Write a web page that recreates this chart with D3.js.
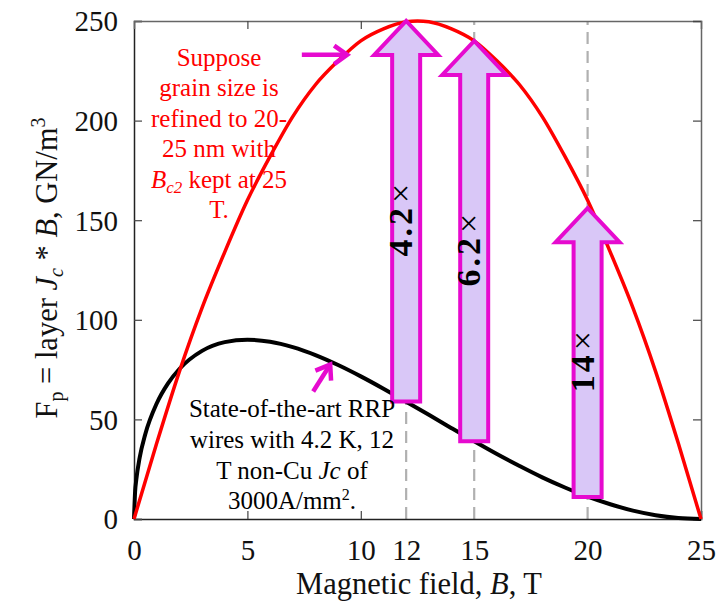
<!DOCTYPE html>
<html>
<head>
<meta charset="utf-8">
<script src="https://cdn.jsdelivr.net/npm/d3@7"></script>
<style>
  html, body { margin: 0; padding: 0; background: #fff; }
  svg { display: block; }
  svg text { font-family: "Liberation Serif", "Times New Roman", serif; }
</style>
</head>
<body>
<svg id="chart" width="719" height="608"></svg>
<script>
// Pinning force vs. field for present RRP wires and a refined-grain projection
const refinedField = [0, 1, 2, 3, 4, 5, 6, 7, 8, 9, 10, 11, 12, 12.5, 13, 14, 15, 16, 17, 18, 19, 20, 21, 22, 23, 24, 25];
const refinedFp    = [0, 38, 74, 106, 134, 160, 182, 202, 218, 230, 240, 246, 249.6, 250, 249.6, 246, 240, 230, 218, 202, 182, 160, 134, 106, 74, 38, 0];

const rrpField = [0, 0.05, 0.1, 0.25, 0.5, 1, 1.5, 2, 3, 4, 5, 6, 7, 8, 9, 10, 11, 12, 13, 14, 15, 16, 17, 18, 19, 20, 21, 22, 23, 24, 25];
const rrpFp    = [0, 14, 19.7, 30.8, 42.7, 58, 68.1, 75.3, 84.4, 88.8, 90, 89, 86.3, 82.3, 77.3, 71.6, 65.4, 58.9, 52.3, 45.6, 39, 32.6, 26.6, 20.9, 15.8, 11.2, 7.4, 4.2, 1.9, 0.5, 0];

// Improvement arrows at selected fields
const gainField = [12, 15, 20];
const gainFrom  = [59, 39, 11];
const gainTo    = [250, 240, 156];
const gainLabel = ["4.2×", "6.2×", "14×"];
const gainLabelAt = [150, 135, 79];

const xTicks = [0, 5, 10, 12, 15, 20, 25];
const yTicks = [0, 50, 100, 150, 200, 250];
const markedFields = [12, 15, 20];

const SERIF = "Liberation Serif";
const svg = d3.select("#chart");
const pl = 134, pr = 701, pt = 21, pb = 519;
const x = d3.scaleLinear().domain([0, 25]).range([pl, pr]);
const y = d3.scaleLinear().domain([0, 250]).range([pb, pt]);

const MAG = "#e60acf", LAV = "#d9c7f7";

// dashed guides at the marked fields
svg.append("g").selectAll("line").data(markedFields).join("line")
  .attr("x1", d => x(d)).attr("x2", d => x(d))
  .attr("y1", y(0)).attr("y2", y(250))
  .attr("stroke", "#b0b0b0").attr("stroke-width", 2.2)
  .attr("stroke-dasharray", "12,7");

// axes with inward ticks
const axB = svg.append("g").attr("transform", `translate(0,${pb})`)
  .call(d3.axisBottom(x).tickValues(xTicks).tickSize(-8).tickPadding(20).tickFormat(d3.format("d")));
const axL = svg.append("g").attr("transform", `translate(${pl},0)`)
  .call(d3.axisLeft(y).tickValues(yTicks).tickSize(-8).tickPadding(16));
const axT = svg.append("g").attr("transform", `translate(0,${pt})`)
  .call(d3.axisTop(x).tickValues([5, 10]).tickSize(-8).tickFormat(""));
const axR = svg.append("g").attr("transform", `translate(${pr},0)`)
  .call(d3.axisRight(y).tickValues(yTicks).tickSize(-8).tickFormat(""));

[axB, axL, axT, axR].forEach(g => {
  g.attr("font-family", SERIF);
  g.select(".domain").attr("stroke", "#222").attr("stroke-width", 1.5);
  g.selectAll(".tick line").attr("stroke", "#444").attr("stroke-width", 1.2);
  g.selectAll(".tick text").attr("font-family", SERIF).attr("font-size", 29).attr("fill", "#111");
});
axT.select(".domain").attr("stroke", "#666");
axR.select(".domain").attr("stroke", "#666");
axB.selectAll(".tick line").filter(d => markedFields.includes(d)).attr("stroke", "none");
axL.selectAll(".tick text").attr("dy", "0.34em");

// curves
const line = d3.line().x(d => x(d[0])).y(d => y(d[1])).curve(d3.curveMonotoneX);
svg.append("path").datum(rrpField.map((b, i) => [b, rrpFp[i]]))
  .attr("d", line).attr("fill", "none").attr("stroke", "#000").attr("stroke-width", 4);
svg.append("path").datum(refinedField.map((b, i) => [b, refinedFp[i]]))
  .attr("d", line).attr("fill", "none").attr("stroke", "#ff0000").attr("stroke-width", 3.5);

// block arrows
const shaftHalf = 14, headHalf = 32, headLen = 34;
function blockArrow(b, from, to) {
  const cx = x(b), y0 = y(from), y1 = y(to);
  return `M${cx - shaftHalf},${y0}L${cx - shaftHalf},${y1 + headLen}L${cx - headHalf},${y1 + headLen}` +
         `L${cx},${y1}L${cx + headHalf},${y1 + headLen}L${cx + shaftHalf},${y1 + headLen}L${cx + shaftHalf},${y0}Z`;
}
svg.append("g").selectAll("path").data(gainField).join("path")
  .attr("d", (b, i) => blockArrow(b, gainFrom[i], gainTo[i]))
  .attr("fill", LAV).attr("stroke", MAG).attr("stroke-width", 4).attr("stroke-linejoin", "miter");

const gl = svg.append("g").selectAll("text").data(gainField).join("text")
  .attr("transform", (b, i) => `translate(${x(b) - 6},${y(gainLabelAt[i])}) rotate(-90)`)
  .attr("text-anchor", "middle").attr("dominant-baseline", "central")
  .attr("font-family", SERIF).attr("font-size", 34).attr("fill", "#000");
gl.each(function(b, i) {
  const lab = gainLabel[i];
  const t = d3.select(this);
  t.append("tspan").attr("font-weight", "bold").attr("letter-spacing", 3).text(lab.slice(0, -1));
  t.append("tspan").attr("dx", 2).text(lab.slice(-1));
});

// pointer arrows from the annotations to the curves
const pointers = [
  { from: [7.4, 233], to: [9.4, 233] },
  { from: [7.9, 64], to: [8.65, 77.5] }
];
pointers.forEach(p => {
  const x0 = x(p.from[0]), y0 = y(p.from[1]), x1 = x(p.to[0]), y1 = y(p.to[1]);
  const ang = Math.atan2(y1 - y0, x1 - x0), h = 16, spread = 0.62;
  svg.append("line").attr("x1", x0).attr("y1", y0).attr("x2", x1 - 2 * Math.cos(ang)).attr("y2", y1 - 2 * Math.sin(ang))
    .attr("stroke", MAG).attr("stroke-width", 4.5);
  svg.append("path")
    .attr("d", `M${x1 - h * Math.cos(ang - spread)},${y1 - h * Math.sin(ang - spread)}L${x1},${y1}L${x1 - h * Math.cos(ang + spread)},${y1 - h * Math.sin(ang + spread)}`)
    .attr("fill", "none").attr("stroke", MAG).attr("stroke-width", 4.5).attr("stroke-linejoin", "miter");
});

// annotation: refined grain projection
const red = svg.append("text").attr("text-anchor", "middle").attr("font-family", SERIF).attr("font-size", 25).attr("fill", "#ff0000");
const redLines = ["Suppose", "grain size is", "refined to 20-", "25 nm with", null, "T."];
redLines.forEach((t, i) => {
  const ts = red.append("tspan").attr("x", 219).attr("y", 66 + i * 30.4);
  if (t !== null) { ts.text(t); return; }
  ts.append("tspan").attr("font-style", "italic").text("B");
  ts.append("tspan").attr("font-style", "italic").attr("font-size", 17).attr("dy", 5).text("c2");
  ts.append("tspan").attr("dy", -5).text(" kept at 25");
});

// annotation: present RRP wires
const blk = svg.append("text").attr("text-anchor", "middle").attr("font-family", SERIF).attr("font-size", 25).attr("fill", "#000");
blk.append("tspan").attr("x", 292).attr("y", 417).text("State-of-the-art RRP");
blk.append("tspan").attr("x", 292).attr("y", 448).text("wires with 4.2 K, 12");
const l3 = blk.append("tspan").attr("x", 292).attr("y", 479);
l3.append("tspan").text("T non-Cu ");
l3.append("tspan").attr("font-style", "italic").text("Jc");
l3.append("tspan").text(" of");
const l4 = blk.append("tspan").attr("x", 292).attr("y", 509);
l4.append("tspan").text("3000A/mm");
l4.append("tspan").attr("font-size", 16).attr("dy", -9).text("2");
l4.append("tspan").attr("dy", 9).text(".");

// axis titles
svg.append("text").attr("x", 419).attr("y", 594).attr("text-anchor", "middle")
  .attr("font-family", SERIF).attr("font-size", 30.5).attr("fill", "#111")
  .call(t => {
    t.append("tspan").text("Magnetic field, ");
    t.append("tspan").attr("font-style", "italic").text("B");
    t.append("tspan").text(", T");
  });

svg.append("text").attr("transform", "translate(57,268) rotate(-90)").attr("text-anchor", "middle")
  .attr("font-family", SERIF).attr("font-size", 30.5).attr("fill", "#111")
  .call(t => {
    t.append("tspan").text("F");
    t.append("tspan").attr("font-size", 20).attr("dy", 6).text("p");
    t.append("tspan").attr("dy", -6).text(" = layer ");
    t.append("tspan").attr("font-style", "italic").text("J");
    t.append("tspan").attr("font-style", "italic").attr("font-size", 20).attr("dy", 6).text("c");
    t.append("tspan").attr("dy", -6).text(" * ");
    t.append("tspan").attr("font-style", "italic").text("B");
    t.append("tspan").text(", GN/m");
    t.append("tspan").attr("font-size", 20).attr("dy", -12).text("3");
  });
</script>
</body>
</html>
